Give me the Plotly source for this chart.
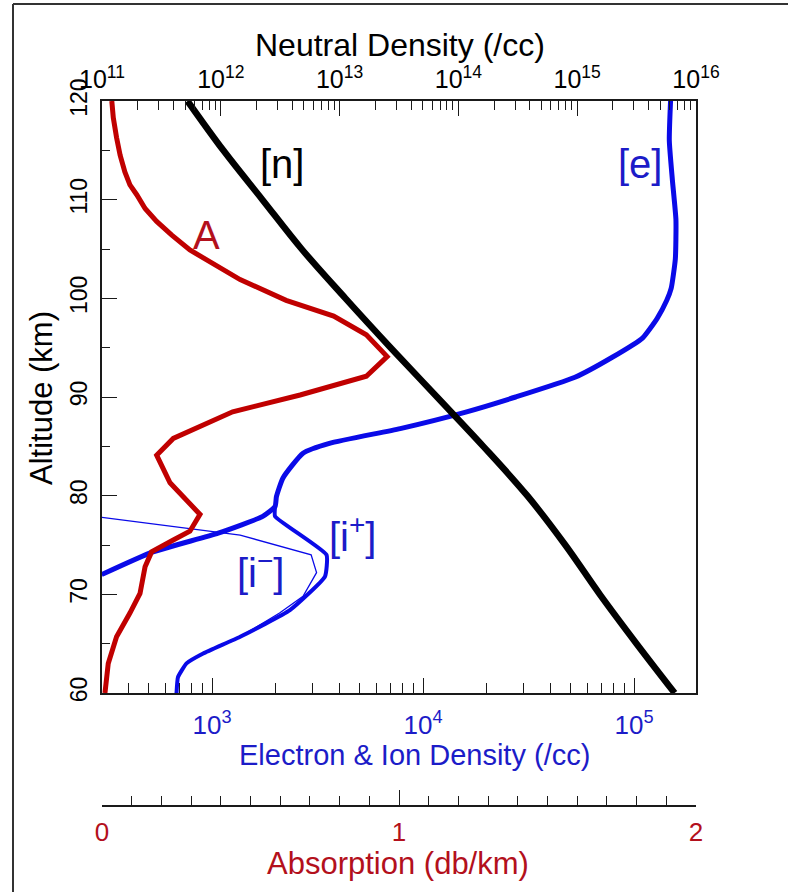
import plotly.graph_objects as go

# ---------------- data ----------------
# Neutral number density profile (per cc) vs altitude (km)
alt_neutral = [120, 115, 110, 105, 100, 95, 90, 85, 80, 75, 70, 65, 60]
neutral_density = [5.25e11, 1.05e12, 2.24e12, 4.79e12, 1.12e13, 2.69e13, 6.61e13,
                   1.62e14, 3.80e14, 7.94e14, 1.55e15, 3.16e15, 6.61e15]

# Electron density [e]
alt_electron = [120, 116, 112, 108, 104, 101, 99.8, 98, 96, 94, 92, 90, 88.5, 86.8,
                85.3, 84.3, 81.8, 79.9, 78.9, 77.9, 76.2, 74.3, 72.0]
electron_density = [1.49e5, 1.47e5, 1.52e5, 1.58e5, 1.57e5, 1.50e5, 1.43e5, 1.29e5,
                    1.10e5, 7.85e4, 5.25e4, 2.75e4, 1.61e4, 7.8e3, 3.6e3, 2.7e3,
                    2.17e3, 2.02e3, 1.99e3, 1.74e3, 1.07e3, 525, 300]

# Positive ion density [i+]
alt_pos_ion = [78.9, 77.9, 74.0, 71.8, 68.4, 65.7, 64.0, 63.0, 61.6, 60.0]
pos_ion_density = [1.99e3, 1.99e3, 3.49e3, 3.43e3, 2.34e3, 1.36e3, 908, 757, 690, 679]

# Negative ion density [i-]
alt_neg_ion = [77.8, 76.0, 74.0, 72.2, 69.8, 68.1, 66.8, 65.7, 64.0, 63.0, 61.6, 60.0]
neg_ion_density = [300, 1.36e3, 2.95e3, 3.13e3, 2.70e3, 2.09e3, 1.66e3, 1.35e3,
                   900, 752, 686, 675]

# Absorption A (dB/km)
alt_absorption = [120, 118.3, 116.3, 114.5, 112.8, 111.5, 110.5, 109.1, 107.8, 106.4,
                  104.9, 103.7, 101.9, 99.8, 98.2, 96.3, 94.1, 92.1, 90.2, 88.5, 86.5,
                  85.8, 84.1, 83.0, 81.3, 78.1, 76.4, 75.5, 74.3, 72.8, 70.1, 68.1,
                  65.7, 63.0, 60.0]
absorption = [0.033, 0.038, 0.049, 0.061, 0.077, 0.094, 0.117, 0.145, 0.184, 0.235,
              0.296, 0.364, 0.465, 0.62, 0.78, 0.89, 0.96, 0.89, 0.667, 0.44, 0.296,
              0.24, 0.184, 0.20, 0.229, 0.33, 0.296, 0.24, 0.167, 0.145, 0.128, 0.094,
              0.049, 0.021, 0.01]

# Axis ticks
altitude_ticks = [60, 70, 80, 90, 100, 110, 120]
altitude_minor = [65, 75, 85, 95, 105, 115]
neutral_ticks = [1e11, 1e12, 1e13, 1e14, 1e15, 1e16]
neutral_tick_text = ["10<sup>11</sup>", "10<sup>12</sup>", "10<sup>13</sup>",
                     "10<sup>14</sup>", "10<sup>15</sup>", "10<sup>16</sup>"]
density_ticks = [1e3, 1e4, 1e5]
density_tick_text = ["10<sup>3</sup>", "10<sup>4</sup>", "10<sup>5</sup>"]
absorption_ticks = [0, 1, 2]
absorption_tick_text = ["0", "1", "2"]

# ---------------- styling ----------------
FONT = "Liberation Sans, Arial, Helvetica, sans-serif"
BLACK = "#000000"
AXIS = "#1a1a1a"
RED_LINE = "#c00000"
RED_TEXT = "#b3101c"
BLUE_LINE = "#0a0ae8"
BLUE_TEXT = "#1c1cc8"
Y_TICK_SIZE = 23

W, H = 788, 892
ML, MR, MT, MB = 102, 92, 101, 86
PW, PH = W - ML - MR, H - MT - MB
PLOT_BOTTOM = 693                      # pixel row of the main plot's bottom edge
Y_DOMAIN_LOW = (H - MB - PLOT_BOTTOM) / PH


def paper(px, py):
    """Pixel position -> paper coordinates."""
    return (px - ML) / PW, (H - MB - py) / PH


def log_minor(lo_exp, hi_exp):
    return [m * 10 ** e for e in range(lo_exp, hi_exp) for m in range(2, 10)]


fig = go.Figure()

fig.add_trace(go.Scatter(x=electron_density, y=alt_electron, mode="lines",
                         line=dict(color=BLUE_LINE, width=5, shape="spline", smoothing=0.5),
                         xaxis="x", yaxis="y", name="[e]", hoverinfo="skip"))
fig.add_trace(go.Scatter(x=pos_ion_density, y=alt_pos_ion, mode="lines",
                         line=dict(color=BLUE_LINE, width=4, shape="spline", smoothing=0.4),
                         xaxis="x", yaxis="y", name="[i+]", hoverinfo="skip"))
fig.add_trace(go.Scatter(x=neg_ion_density, y=alt_neg_ion, mode="lines",
                         line=dict(color=BLUE_LINE, width=1.3), xaxis="x", yaxis="y",
                         name="[i-]", hoverinfo="skip"))
fig.add_trace(go.Scatter(x=absorption, y=alt_absorption, mode="lines",
                         line=dict(color=RED_LINE, width=5), xaxis="x3", yaxis="y",
                         name="A", hoverinfo="skip"))
fig.add_trace(go.Scatter(x=neutral_density, y=alt_neutral, mode="lines",
                         line=dict(color=BLACK, width=6.5, shape="spline", smoothing=1.0),
                         xaxis="x2", yaxis="y", name="[n]", hoverinfo="skip"))

common_line = dict(showline=True, linecolor=AXIS, linewidth=1.5, showgrid=False,
                   zeroline=False, tickcolor=AXIS, tickwidth=1.3)
no_labels = dict(showline=False, showgrid=False, zeroline=False, showticklabels=False,
                 tickcolor=AXIS, tickwidth=1.3)

ed_range = [2.4787, 5.2938]

fig.update_layout(
    width=W, height=H,
    margin=dict(l=ML, r=MR, t=MT, b=MB, pad=0),
    paper_bgcolor="white", plot_bgcolor="white",
    showlegend=False,
    font=dict(family=FONT, color=BLACK),
    # electron & ion density (bottom)
    xaxis=dict(type="log", range=ed_range, anchor="y", side="bottom", domain=[0, 1],
               tickmode="array", tickvals=density_ticks, ticktext=density_tick_text,
               ticks="inside", ticklen=15, ticklabelstandoff=8,
               tickfont=dict(size=26, color=BLUE_TEXT, family=FONT),
               minor=dict(tickmode="array", tickvals=log_minor(2, 6), ticks="inside",
                          ticklen=10, tickcolor=AXIS, tickwidth=1.3),
               **common_line),
    xaxis4=dict(type="log", range=ed_range, anchor="y", side="bottom", overlaying="x",
                tickmode="array", tickvals=density_ticks, ticks="outside", ticklen=10,
                **no_labels),
    # neutral density (top)
    xaxis2=dict(type="log", range=[11, 16], anchor="y", side="top", overlaying="x",
                tickmode="array", tickvals=neutral_ticks, ticktext=neutral_tick_text,
                ticks="inside", ticklen=15, ticklabelstandoff=1,
                tickfont=dict(size=25, color=BLACK, family=FONT),
                minor=dict(tickmode="array", tickvals=log_minor(11, 16), ticks="inside",
                           ticklen=9, tickcolor=AXIS, tickwidth=1.3),
                **common_line),
    xaxis5=dict(type="log", range=[11, 16], anchor="y", side="top", overlaying="x",
                tickmode="array", tickvals=neutral_ticks, ticks="outside", ticklen=6,
                **no_labels),
    # absorption (separate scale below)
    xaxis3=dict(range=[0, 2], anchor="free", position=0, side="bottom", overlaying="x",
                tickmode="array", tickvals=absorption_ticks, ticktext=absorption_tick_text,
                ticks="inside", ticklen=15, ticklabelstandoff=3,
                tickfont=dict(size=26, color=RED_TEXT, family=FONT),
                minor=dict(dtick=0.1, ticks="inside", ticklen=9, tickcolor=AXIS,
                           tickwidth=1.3),
                **common_line),
    xaxis6=dict(range=[0, 2], anchor="free", position=0, side="bottom", overlaying="x",
                tickmode="array", tickvals=absorption_ticks, ticks="outside", ticklen=11,
                **no_labels),
    # altitude
    yaxis=dict(range=[60, 120], domain=[Y_DOMAIN_LOW, 1], anchor="x", side="left",
               tickmode="array", tickvals=altitude_ticks, ticks="inside", ticklen=15,
               ticklabelstandoff=4, tickangle=-90, mirror=True,
               tickfont=dict(size=Y_TICK_SIZE, color=BLACK, family=FONT),
               minor=dict(tickmode="array", tickvals=altitude_minor, ticks="inside",
                          ticklen=8, tickcolor=AXIS, tickwidth=1.3),
               **common_line),
    yaxis2=dict(range=[60, 120], anchor="x", side="left", overlaying="y",
                tickmode="array", tickvals=altitude_ticks, ticks="outside", ticklen=10,
                **no_labels),
)

annotations = []


def label(text, px, py, size, color, angle=0):
    x, y = paper(px, py)
    annotations.append(dict(text=text, x=x, y=y, xref="paper", yref="paper",
                            xanchor="center", yanchor="middle", showarrow=False,
                            textangle=angle,
                            font=dict(family=FONT, size=size, color=color)))


# axis titles
label("Neutral Density (/cc)", 400, 45, 32, BLACK)
label("Electron &amp; Ion Density (/cc)", 414, 755, 29, BLUE_TEXT)
label("Absorption (db/km)", 398, 863, 31, RED_TEXT)
label("Altitude (km)", 41, 398, 31, BLACK, angle=-90)

# curve labels
label("[n]", 282, 164, 40, BLACK)
label("A", 206, 235, 40, RED_TEXT)
label("[e]", 640, 164, 40, BLUE_TEXT)
label("[i<sup>+</sup>]", 352, 534, 40, BLUE_TEXT)
label("[i<sup>\u2212</sup>]", 260, 570, 40, BLUE_TEXT)

fig.update_layout(annotations=annotations)

# outer frame (left and top edges)
x_left, y_top = paper(13, 4)
x_right, y_bot = paper(W, H)
fig.add_shape(type="line", xref="paper", yref="paper", x0=x_left, x1=x_left,
              y0=y_bot, y1=y_top, line=dict(color="#333333", width=2))
fig.add_shape(type="line", xref="paper", yref="paper", x0=x_left, x1=x_right,
              y0=y_top, y1=y_top, line=dict(color="#333333", width=2))

fig.write_html("out.html")
